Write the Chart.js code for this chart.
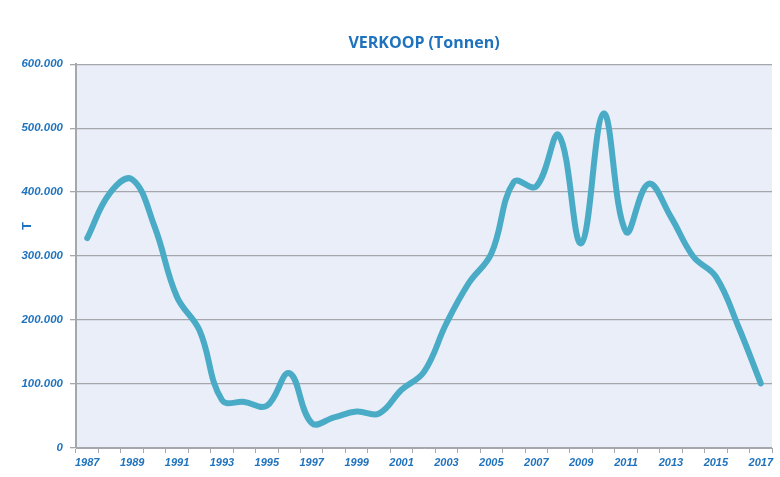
<!DOCTYPE html>
<html>
<head>
<meta charset="utf-8">
<script src="https://cdn.jsdelivr.net/npm/chart.js@4/dist/chart.umd.min.js"></script>
<style>
html,body{margin:0;padding:0;background:#fff;}
#wrap{width:780px;height:477px;position:relative;}
</style>
</head>
<body>
<div id="wrap"><canvas id="c" width="780" height="477"></canvas></div>
<script>
const years = ["1987","1988","1989","1990","1991","1992","1993","1994","1995","1996","1997","1998","1999","2000","2001","2002","2003","2004","2005","2006","2007","2008","2009","2010","2011","2012","2013","2014","2015","2016","2017"];
const verkoop = [328000,398000,420000,346000,236000,184000,75000,72000,66000,117000,39000,48000,57000,54000,91000,119000,195000,258000,304000,416000,409000,489000,320000,523000,338000,413000,361000,299000,268000,190000,101000];
const yTicks = [0,100000,200000,300000,400000,500000,600000];
const chartTitle = "VERKOOP (Tonnen)";
const yTitle = "T";

const blue = "#1f72bd";
const gridCol = "#a5a7ad";

const plotBg = {
  id: "plotBg",
  beforeDraw(chart) {
    const {ctx, chartArea: a} = chart;
    ctx.save();
    ctx.fillStyle = "#e9eef8";
    ctx.fillRect(a.left, a.top, a.right - a.left, a.bottom - a.top);
    ctx.restore();
  }
};

const yAxisTitle = {
  id: "yAxisTitle",
  afterDraw(chart) {
    const ctx = chart.ctx;
    ctx.save();
    ctx.translate(27, 226);
    ctx.rotate(-Math.PI / 2);
    ctx.fillStyle = blue;
    ctx.font = "bold 13px 'Liberation Sans', sans-serif";
    ctx.textAlign = "center";
    ctx.textBaseline = "middle";
    ctx.fillText(yTitle, 0, 0);
    ctx.restore();
  }
};

function fmt(v) {
  if (v === 0) return "0";
  const s = String(Math.round(v));
  return s.replace(/\B(?=(\d{3})+(?!\d))/g, ".");
}

new Chart(document.getElementById("c"), {
  type: "line",
  data: {
    labels: years,
    datasets: [{
      data: verkoop,
      borderColor: "#4aabc6",
      borderWidth: 6,
      pointRadius: 0,
      tension: 0.4,
      fill: false,
      borderCapStyle: "round",
      borderJoinStyle: "round"
    }]
  },
  options: {
    responsive: false,
    animation: false,
    layout: { padding: { top: 34, right: 8, bottom: 0, left: 0 } },
    plugins: {
      legend: { display: false },
      tooltip: { enabled: false },
      title: {
        display: true,
        fullSize: false,
        text: chartTitle,
        color: blue,
        font: { family: "'Open Sans', 'Liberation Sans', sans-serif", size: 16, weight: "bold" },
        padding: { top: 0, bottom: 11 }
      }
    },
    scales: {
      x: {
        type: "category",
        offset: true,
        afterFit(scale) { scale.height = 29; },
        grid: {
          offset: true,
          drawOnChartArea: false,
          drawTicks: true,
          tickLength: 5,
          color: gridCol
        },
        border: { display: true, color: gridCol, width: 1 },
        ticks: {
          autoSkip: false,
          maxRotation: 0,
          padding: 3,
          color: blue,
          font: { family: "'Liberation Sans Narrow', 'Liberation Sans', sans-serif", size: 11, weight: "bold", style: "italic" },
          callback(value, index) { return index % 2 === 0 ? years[index] : ""; }
        }
      },
      y: {
        min: 0,
        max: 600000,
        afterFit(scale) { scale.width = 76; },
        afterBuildTicks(scale) { scale.ticks = yTicks.map(v => ({ value: v })); },
        grid: {
          color: gridCol,
          lineWidth: 1.3,
          drawTicks: true,
          tickLength: 6
        },
        border: { display: true, color: gridCol, width: 2 },
        ticks: {
          padding: 7,
          color: blue,
          font: { family: "'Liberation Sans', sans-serif", size: 11.5, weight: "bold", style: "italic" },
          callback(v) { return fmt(v); }
        },
        title: { display: false }
      }
    }
  },
  plugins: [plotBg, yAxisTitle]
});
</script>
</body>
</html>
